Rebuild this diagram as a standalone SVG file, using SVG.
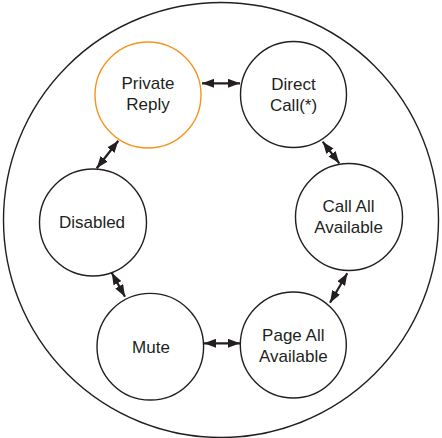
<svg xmlns="http://www.w3.org/2000/svg" width="442" height="438" viewBox="0 0 442 438">
<style>
.node{fill:#fff;stroke:#231f20;stroke-width:1.4}
.orange{stroke:#f7941d}
.lbl{font-family:"Liberation Sans",Arial,sans-serif;font-size:17px;fill:#231f20;text-anchor:middle}
.conn{stroke:#231f20;stroke-width:2.2;fill:none;marker-start:url(#ah);marker-end:url(#ah)}
</style>
<defs>
<marker id="ah" markerUnits="userSpaceOnUse" markerWidth="13" markerHeight="9" refX="12" refY="4.5" orient="auto-start-reverse">
<path d="M0,0 L12,4.5 L0,9 Z" fill="#231f20"/>
</marker>
</defs>
<rect width="442" height="438" fill="#fff"/>
<circle cx="221" cy="220" r="217.5" fill="none" stroke="#231f20" stroke-width="1.4"/>
<g id="connectors">
<line class="conn" x1="202" y1="83.3" x2="240" y2="83.3"/>
<line class="conn" x1="322.7" y1="141.7" x2="339.3" y2="163.3"/>
<line class="conn" x1="347.3" y1="273.3" x2="330" y2="302.7"/>
<line class="conn" x1="240" y1="343.3" x2="204" y2="343.3"/>
<line class="conn" x1="125" y1="296.7" x2="111.7" y2="272.7"/>
<line class="conn" x1="96.7" y1="168.3" x2="118.3" y2="140.7"/>
</g>
<g id="private-reply">
<circle class="node orange" cx="148" cy="95" r="53"/>
<text class="lbl" x="148" y="89.3">Private</text>
<text class="lbl" x="148" y="110">Reply</text>
</g>
<g id="direct-call">
<circle class="node" cx="293.5" cy="94.5" r="53"/>
<text class="lbl" x="293.5" y="90">Direct</text>
<text class="lbl" x="293.5" y="110.5">Call(*)</text>
</g>
<g id="call-all-available">
<circle class="node" cx="349" cy="217" r="53.5"/>
<text class="lbl" x="348.5" y="211.7">Call All</text>
<text class="lbl" x="348.5" y="233.3">Available</text>
</g>
<g id="page-all-available">
<circle class="node" cx="293.3" cy="345" r="53"/>
<text class="lbl" x="293.3" y="341">Page All</text>
<text class="lbl" x="293.3" y="361.7">Available</text>
</g>
<g id="mute">
<circle class="node" cx="150.3" cy="346.7" r="53.3"/>
<text class="lbl" x="151" y="352.7">Mute</text>
</g>
<g id="disabled">
<circle class="node" cx="93" cy="222.5" r="53.5"/>
<text class="lbl" x="92" y="228.3">Disabled</text>
</g>
</svg>
